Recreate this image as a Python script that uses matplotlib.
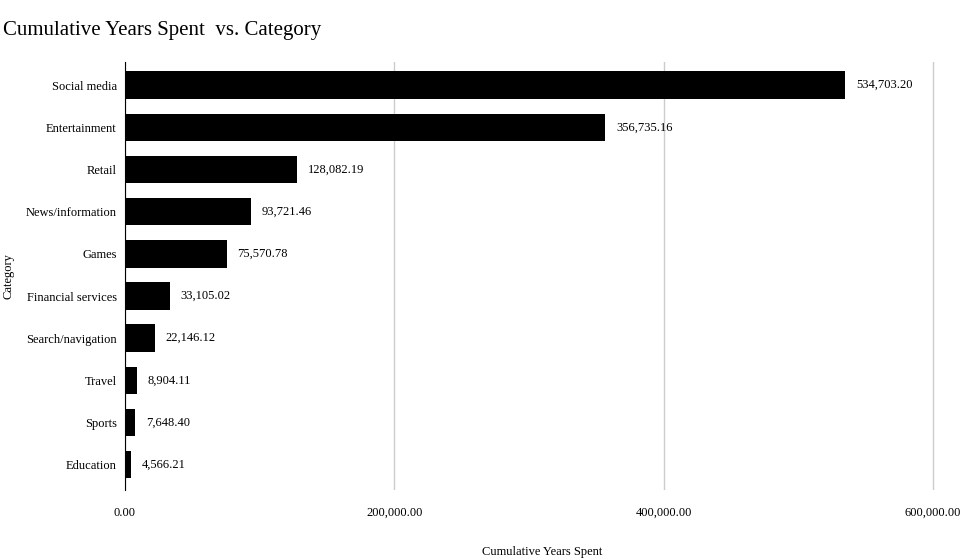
import matplotlib
matplotlib.use("Agg")
import matplotlib.pyplot as plt
from matplotlib.ticker import FuncFormatter

categories = ["Social media", "Entertainment", "Retail", "News/information", "Games",
              "Financial services", "Search/navigation", "Travel", "Sports", "Education"]
values = [534703.20, 356735.16, 128082.19, 93721.46, 75570.78,
          33105.02, 22146.12, 8904.11, 7648.40, 4566.21]
xticks = [0, 200000, 400000, 600000]

plt.rcParams["font.family"] = "Liberation Serif"
fig = plt.figure(figsize=(9.7, 5.6), dpi=100)
ax = fig.add_axes([125/970, 1-490/560, 835/970, 428/560])
y = list(range(len(categories)))
ax.barh(y, values, height=0.65, color="black")
for yi, v in zip(y, values):
    ax.text(v + 8000, yi, f"{v:,.2f}", va="center", ha="left", fontsize=9)
ax.set_yticks(y)
ax.set_yticklabels(categories, fontsize=9)
ax.set_ylim(len(categories) - 0.4, -0.55)
ax.set_xlim(0, 620000)
ax.set_xticks(xticks)
ax.xaxis.set_major_formatter(FuncFormatter(lambda v, p: f"{v:,.2f}"))
ax.tick_params(axis="x", labelsize=9, length=0, pad=12)
ax.tick_params(axis="y", length=0, pad=6)
ax.grid(axis="x", color="#cccccc", linewidth=1)
ax.set_axisbelow(True)
for s in ["top", "right", "bottom"]:
    ax.spines[s].set_visible(False)
ax.spines["left"].set_color("black")
ax.set_xlabel("Cumulative Years Spent", fontsize=9, labelpad=20)
ax.set_ylabel("Category", fontsize=9, labelpad=8)
fig.text(3/970, 1-30/560, "Cumulative Years Spent  vs. Category", fontsize=15, va="center", ha="left")
fig.savefig("out.png", dpi=100)
